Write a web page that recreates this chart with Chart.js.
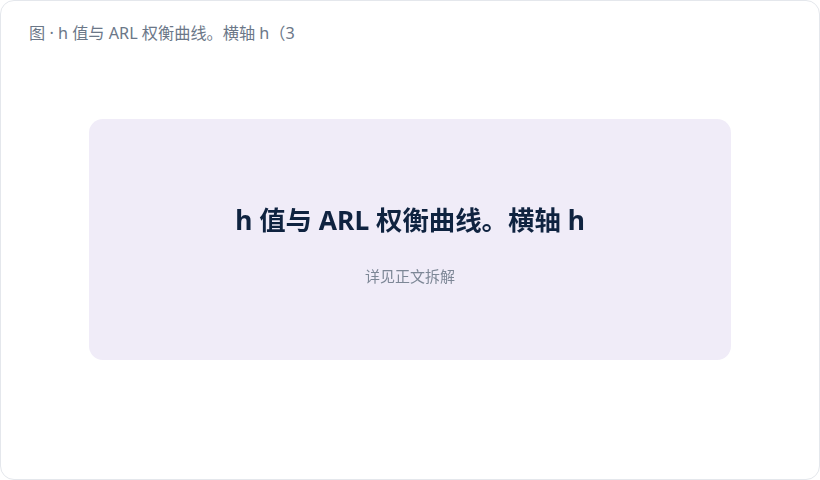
<!DOCTYPE html>
<html lang="zh">
<head>
<meta charset="utf-8">
<script src="https://cdn.jsdelivr.net/npm/chart.js@4.4.1/dist/chart.umd.min.js"></script>
<style>
  html, body { margin: 0; padding: 0; background: #ffffff; }
  .card {
    position: absolute; left: 0; top: 0; width: 820px; height: 480px;
    box-sizing: border-box; border: 1px solid #e4e7ec; border-radius: 14px;
    background: #ffffff;
    font-family: "Noto Sans", "Noto Sans CJK SC", sans-serif;
  }
  .caption {
    position: absolute; left: 28px; top: 21px; line-height: 22px;
    font-size: 16.2px; color: #6b7788; white-space: nowrap;
  }
  .panel {
    position: absolute; left: 88px; top: 118px; width: 642px; height: 241px;
    background: #f0ecf8; border-radius: 14px; overflow: hidden;
  }
</style>
</head>
<body>
<div class="card">
  <div class="caption">图 · h 值与 ARL 权衡曲线。横轴 h（3</div>
  <div class="panel"><canvas id="arlChart"></canvas></div>
</div>
<script>
// the figure is a placeholder: no curve is plotted, only its heading
const categories = [];
const arlValues = [];
const titleText = "h 值与 ARL 权衡曲线。横轴 h";
const noteText = "详见正文拆解";
const fontStack = "'Noto Sans', 'Noto Sans CJK SC', sans-serif";

window.createChart = function () {
  const ctx = document.getElementById("arlChart").getContext("2d");

  window.arlChart = new Chart(ctx, {
    type: "line",
    data: {
      labels: categories,
      datasets: [
        {
          label: "ARL",
          data: arlValues,
          borderColor: "#0f2340",
          fill: false,
        },
      ],
    },
    options: {
      responsive: true,
      maintainAspectRatio: false,
      animation: false,
      layout: { padding: { top: 77 } },
      plugins: {
        legend: { display: false },
        tooltip: { enabled: false },
        title: {
          display: true,
          text: titleText,
          color: "#0f2340",
          font: { family: fontStack, size: 26.4, weight: "bold" },
          padding: { top: 11, bottom: 19 },
        },
        subtitle: {
          display: true,
          text: noteText,
          color: "#7d8796",
          font: { family: "'Noto Sans CJK SC', sans-serif", size: 15, weight: "normal" },
          padding: { top: 10, bottom: 0 },
        },
      },
      scales: {
        x: { display: false },
        y: { display: false },
      },
    },
  });
};

window.createChart();
</script>
</body>
</html>
